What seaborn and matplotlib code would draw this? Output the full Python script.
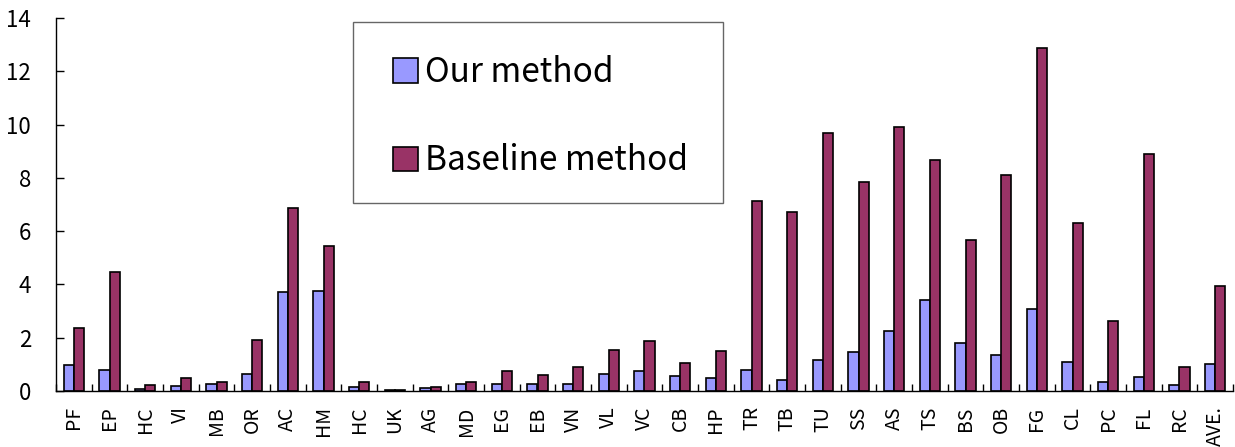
import numpy as np
import pandas as pd
import matplotlib
matplotlib.use("Agg")
import matplotlib.pyplot as plt
from matplotlib.patches import Rectangle
import seaborn as sns

categories = ["PF", "EP", "HC", "VI", "MB", "OR", "AC", "HM", "HC", "UK", "AG", "MD",
              "EG", "EB", "VN", "VL", "VC", "CB", "HP", "TR", "TB", "TU", "SS", "AS",
              "TS", "BS", "OB", "FG", "CL", "PC", "FL", "RC", "AVE."]
our_method = [0.98, 0.80, 0.08, 0.18, 0.25, 0.65, 3.70, 3.75, 0.15, 0.02, 0.10, 0.25,
              0.25, 0.25, 0.28, 0.65, 0.75, 0.55, 0.50, 0.77, 0.40, 1.15, 1.45, 2.25,
              3.42, 1.80, 1.35, 3.08, 1.07, 0.33, 0.52, 0.22, 1.00]
baseline_method = [2.35, 4.45, 0.22, 0.50, 0.35, 1.90, 6.85, 5.45, 0.35, 0.05, 0.15, 0.33,
                   0.75, 0.60, 0.90, 1.55, 1.87, 1.05, 1.50, 7.12, 6.72, 9.67, 7.85, 9.90,
                   8.68, 5.65, 8.12, 12.87, 6.32, 2.63, 8.88, 0.90, 3.95]
series_names = ["Our method", "Baseline method"]
yticks = [0, 2, 4, 6, 8, 10, 12, 14]

plt.rcParams['font.family'] = ['Noto Sans CJK JP', 'DejaVu Sans']

keys = [f"{i}_{c}" for i, c in enumerate(categories)]
df = pd.DataFrame({
    "key": keys * 2,
    "value": our_method + baseline_method,
    "series": [series_names[0]] * len(keys) + [series_names[1]] * len(keys),
})

fig = plt.figure(figsize=(12.35, 4.47), dpi=100)
ax = fig.add_axes([56 / 1235, 1 - 391 / 447, (1233 - 56) / 1235, (391 - 18) / 447])

sns.barplot(data=df, x="key", y="value", hue="series", order=keys,
            hue_order=series_names, palette=["#9999FF", "#993366"],
            edgecolor="black", linewidth=1.2, width=0.57, gap=0, ax=ax,
            saturation=1)

n = len(categories)
ax.set_xlim(-0.5, n - 0.5)
ax.set_ylim(0, 14)
ax.set_yticks(yticks)
ax.set_yticklabels([str(v) for v in yticks], fontsize=16)
ax.set_xticks(range(n))
ax.set_xticklabels(categories, rotation=90, fontsize=14)
ax.tick_params(axis="x", length=0, pad=11)
ax.set_xticks(np.arange(-0.5, n, 1.0), minor=True)
ax.tick_params(axis="x", which="minor", direction="in", length=5, width=1)
ax.tick_params(axis="y", direction="in", length=6, width=1, pad=18)
ax.set_xlabel("")
ax.set_ylabel("")
for s in ["top", "right"]:
    ax.spines[s].set_visible(False)
for s in ["left", "bottom"]:
    ax.spines[s].set_color("black")
    ax.spines[s].set_linewidth(1)

handles, labels = ax.get_legend_handles_labels()
if ax.get_legend() is not None:
    ax.get_legend().remove()

# legend frame box
fig.patches.append(Rectangle((353 / 1235, 1 - 203 / 447), (723 - 353) / 1235, (203 - 22) / 447,
                             transform=fig.transFigure, facecolor="white",
                             edgecolor="#666666", linewidth=1, zorder=5))

leg = fig.legend(handles, labels, loc="upper left", bbox_to_anchor=(393 / 1235, 1 - 55 / 447),
                 bbox_transform=fig.transFigure, fontsize=24, frameon=False,
                 labelspacing=1.6, borderpad=0, handlelength=0.75, handleheight=0.75,
                 handletextpad=0.2, borderaxespad=0)
leg.set_zorder(6)

fig.savefig("out.png", dpi=100)
